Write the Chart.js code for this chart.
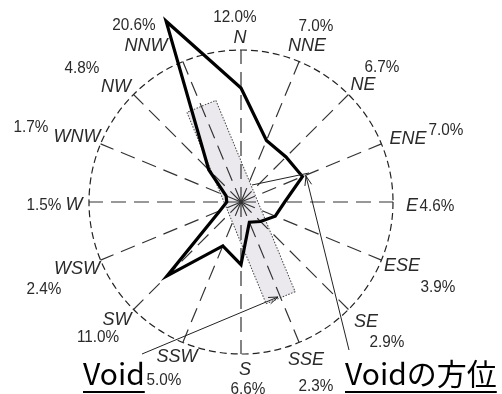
<!DOCTYPE html>
<html>
<head>
<meta charset="utf-8">
<script src="https://cdn.jsdelivr.net/npm/chart.js@4.4.0/dist/chart.umd.min.js"></script>
<style>
  html, body { margin: 0; padding: 0; background: #fff; }
</style>
</head>
<body>
<canvas id="rose" width="502" height="394"></canvas>
<script>
// 風向頻度 (%)
const directions = ['N', 'NNE', 'NE', 'ENE', 'E', 'ESE', 'SE', 'SSE', 'S', 'SSW', 'SW', 'WSW', 'W', 'WNW', 'NW', 'NNW'];
const frequency = [12.0, 7.0, 6.7, 7.0, 4.6, 3.9, 2.9, 2.3, 6.6, 5.0, 11.0, 2.4, 1.5, 1.7, 4.8, 20.6];
const radialMax = 16;

// Void の帯 (方位角, 半長さ・半幅は % 単位)
const voidBearing = 157.5;
const voidHalfLength = 10.9;
const voidHalfWidth = 1.65;

// ラベル位置 (px)
const dirLabelPos = [[240, 38], [307, 46], [363, 85], [408, 139], [412, 206], [402, 266], [366, 322], [306, 360],
  [245, 370], [177, 357], [117, 320], [77, 269], [74, 205], [77, 137], [116, 87], [146, 46]];
const pctLabelPos = [[235, 17], [316, 26], [382, 67], [446, 130], [437, 206], [438, 287], [387, 342], [316, 386],
  [248, 389], [164, 380], [98, 337], [44, 289], [44, 205], [31, 127], [82, 68], [134, 25]];

// 注記 (矢印)
const voidArrow = [[142, 354], [278, 297]];
const dirArrow = [[349, 350], [306, 176]];
const dirLeader = [[252, 185], [309, 173]];

function drawArrow(ctx, p1, p2) {
    const ang = Math.atan2(p2[1] - p1[1], p2[0] - p1[0]);
    const len = 10, spread = 0.35;
    ctx.beginPath();
    ctx.moveTo(p1[0], p1[1]);
    ctx.lineTo(p2[0], p2[1]);
    ctx.moveTo(p2[0] - len * Math.cos(ang - spread), p2[1] - len * Math.sin(ang - spread));
    ctx.lineTo(p2[0], p2[1]);
    ctx.lineTo(p2[0] - len * Math.cos(ang + spread), p2[1] - len * Math.sin(ang + spread));
    ctx.stroke();
}

const roseDecor = {
    id: 'roseDecor',
    beforeDraw(chart) {
        // Void の帯 (グリッドより下)
        const r = chart.scales.r;
        const ctx = chart.ctx;
        const hl = r.getDistanceFromCenterForValue(voidHalfLength);
        const hw = r.getDistanceFromCenterForValue(voidHalfWidth);
        ctx.save();
        ctx.translate(r.xCenter, r.yCenter);
        ctx.rotate((voidBearing - 90) * Math.PI / 180);
        ctx.fillStyle = '#ebe9ee';
        ctx.fillRect(-hl, -hw, hl * 2, hw * 2);
        ctx.setLineDash([1.5, 1.5]);
        ctx.strokeStyle = '#444';
        ctx.lineWidth = 1;
        ctx.strokeRect(-hl, -hw, hl * 2, hw * 2);
        ctx.restore();
    },
    afterDraw(chart) {
        const ctx = chart.ctx;
        ctx.save();
        ctx.textAlign = 'center';
        ctx.textBaseline = 'middle';
        ctx.fillStyle = '#2a2a2a';
        directions.forEach((d, i) => {
            ctx.font = 'italic 18px "Liberation Sans", Arial, sans-serif';
            ctx.fillText(d, dirLabelPos[i][0], dirLabelPos[i][1]);
            // 数字はやや縦長の書体
            ctx.save();
            ctx.font = '17px "Liberation Sans", Arial, sans-serif';
            ctx.translate(pctLabelPos[i][0], pctLabelPos[i][1]);
            ctx.scale(0.9, 1);
            ctx.fillText(frequency[i].toFixed(1) + '%', 0, 0);
            ctx.restore();
        });

        // 矢印
        ctx.strokeStyle = '#222';
        ctx.lineWidth = 1;
        drawArrow(ctx, voidArrow[0], voidArrow[1]);
        drawArrow(ctx, dirArrow[0], dirArrow[1]);
        ctx.beginPath();
        ctx.moveTo(dirLeader[0][0], dirLeader[0][1]);
        ctx.lineTo(dirLeader[1][0], dirLeader[1][1]);
        ctx.stroke();

        // 下線付きの説明文字
        ctx.fillStyle = '#000';
        ctx.textAlign = 'left';
        ctx.textBaseline = 'alphabetic';
        ctx.font = '30px "Noto Sans CJK JP", sans-serif';
        [['Void', 83], ['Voidの方位', 345]].forEach(([t, x]) => {
            ctx.fillText(t, x, 385);
            const w = ctx.measureText(t).width;
            ctx.fillRect(x, 391, w, 2);
        });
        ctx.restore();
    }
};

const ctx = document.getElementById('rose').getContext('2d');
const roseChart = new Chart(ctx, {
    type: 'radar',
    data: {
        labels: directions,
        datasets: [{
            data: frequency,
            borderColor: '#000',
            borderWidth: 3.2,
            borderJoinStyle: 'miter',
            pointRadius: 0,
            fill: false,
            tension: 0,
            clip: false
        }]
    },
    options: {
        responsive: false,
        animation: false,
        layout: { padding: { left: 89, top: 50, right: 109, bottom: 40 } },
        plugins: { legend: { display: false }, tooltip: { enabled: false } },
        scales: {
            r: {
                min: 0,
                max: radialMax,
                ticks: { display: false, stepSize: radialMax },
                pointLabels: { display: false },
                grid: { color: '#222', lineWidth: 1.2, circular: true },
                border: { dash: [7, 4] },
                angleLines: { color: '#333', lineWidth: 1.2, borderDash: [15, 8] }
            }
        }
    },
    plugins: [roseDecor]
});
</script>
</body>
</html>
